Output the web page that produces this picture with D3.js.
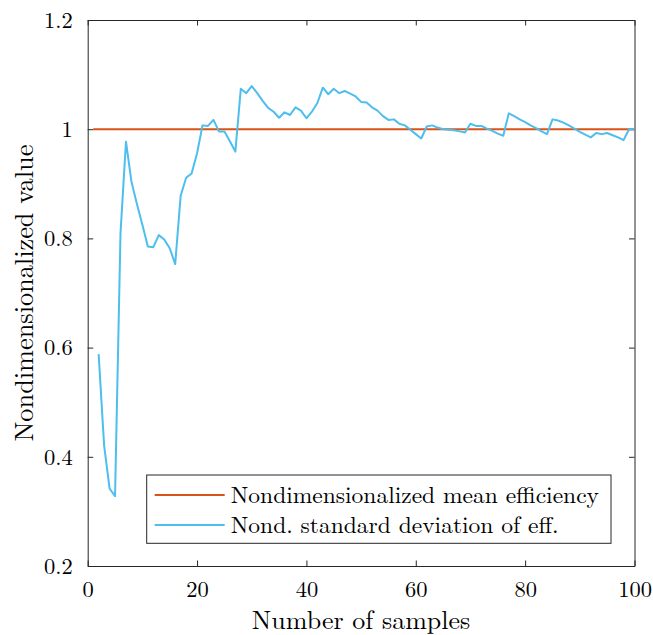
<!DOCTYPE html>
<html>
<head>
<meta charset="utf-8">
<script src="https://cdn.jsdelivr.net/npm/d3@7"></script>
<style>
  body { margin: 0; background: #fff; }
  svg { display: block; }
</style>
</head>
<body>
<svg id="chart"></svg>
<script>
// number of samples for the std. deviation series
var samples = d3.range(2, 101);
var stdValues = [
  0.588, 0.421, 0.342, 0.328, 0.810, 0.977, 0.904, 0.863, 0.825, 0.785,
  0.784, 0.806, 0.798, 0.782, 0.753, 0.878, 0.911, 0.919, 0.956, 1.007,
  1.006, 1.017, 0.996, 0.996, 0.978, 0.959, 1.074, 1.066, 1.079, 1.066,
  1.052, 1.039, 1.032, 1.021, 1.031, 1.026, 1.040, 1.034, 1.020, 1.032,
  1.048, 1.076, 1.064, 1.074, 1.066, 1.070, 1.065, 1.060, 1.050, 1.049,
  1.040, 1.034, 1.024, 1.017, 1.018, 1.010, 1.007, 0.999, 0.991, 0.983,
  1.005, 1.007, 1.003, 1.000, 0.999, 0.998, 0.996, 0.994, 1.010, 1.006,
  1.006, 1.001, 0.997, 0.992, 0.988, 1.029, 1.024, 1.018, 1.013, 1.007,
  1.002, 0.996, 0.991, 1.018, 1.016, 1.012, 1.007, 1.001, 0.995, 0.990,
  0.985, 0.993, 0.991, 0.993, 0.989, 0.985, 0.980, 1.000, 1.000
];
// mean efficiency (nondimensionalized, flat)
var meanSamples = [1, 100];
var meanValues = [1, 1];

var xTicks = [0, 20, 40, 60, 80, 100];
var yTicks = [0.2, 0.4, 0.6, 0.8, 1, 1.2];
var legendLabels = ["Nondimensionalized mean efficiency", "Nond. standard deviation of eff."];
var colors = ["#D95319", "#4DBEEE"];

var FONT = "'Latin Modern Roman', 'Liberation Serif', serif";

function drawChart() {
    var W = 653, H = 635;
    var margin = {top: 20, right: 18.5, bottom: 69, left: 87.7},
        width = W - margin.left - margin.right,
        height = H - margin.top - margin.bottom;

    var svg = d3.select("#chart")
        .attr("width", W)
        .attr("height", H);

    var g = svg.append("g")
        .attr("transform", "translate(" + margin.left + "," + margin.top + ")");

    var x = d3.scaleLinear().domain([0, 100]).range([0, width]);
    var y = d3.scaleLinear().domain([0.2, 1.2]).range([height, 0]);

    var fmt = function(d) { return String(+d.toFixed(1)); };

    // axes, ticks pointing inward (matlab style)
    var axisColor = "#262626", tick = 5.5;

    g.append("g")
        .attr("transform", "translate(0," + height + ")")
        .call(d3.axisBottom(x).tickValues(xTicks).tickSizeInner(-tick).tickSizeOuter(0).tickPadding(0).tickFormat(fmt))
        .call(styleAxis)
        .selectAll(".tick text")
            .attr("y", 30.5)
            .attr("dy", null);

    g.append("g")
        .call(d3.axisTop(x).tickValues(xTicks).tickSizeInner(-tick).tickSizeOuter(0).tickFormat(""))
        .call(styleAxis);

    g.append("g")
        .call(d3.axisLeft(y).tickValues(yTicks).tickSizeInner(-tick).tickSizeOuter(0).tickPadding(15).tickFormat(fmt))
        .call(styleAxis);

    g.append("g")
        .attr("transform", "translate(" + width + ",0)")
        .call(d3.axisRight(y).tickValues(yTicks).tickSizeInner(-tick).tickSizeOuter(0).tickFormat(""))
        .call(styleAxis);

    function styleAxis(sel) {
        sel.attr("font-family", FONT).attr("font-size", 22.5);
        sel.select(".domain").attr("stroke", axisColor).attr("stroke-width", 1);
        sel.selectAll(".tick line").attr("stroke", axisColor).attr("stroke-width", 1);
        sel.selectAll(".tick text").attr("fill", "#000");
    }

    var line = d3.line()
        .x(function(d) { return x(d[0]); })
        .y(function(d) { return y(d[1]); });

    g.append("path")
        .datum(d3.zip(meanSamples, meanValues))
        .attr("fill", "none")
        .attr("stroke", colors[0])
        .attr("stroke-width", 2)
        .attr("d", line);

    g.append("path")
        .datum(d3.zip(samples, stdValues))
        .attr("fill", "none")
        .attr("stroke", colors[1])
        .attr("stroke-width", 2)
        .attr("stroke-linejoin", "round")
        .attr("d", line);

    // axis labels
    svg.append("text")
        .attr("x", margin.left + width / 2)
        .attr("y", 628.5)
        .attr("text-anchor", "middle")
        .attr("font-family", FONT)
        .attr("font-size", 26)
        .text("Number of samples");

    svg.append("text")
        .attr("transform", "translate(32.5," + (margin.top + height / 2) + ") rotate(-90)")
        .attr("text-anchor", "middle")
        .attr("font-family", FONT)
        .attr("font-size", 26.3)
        .text("Nondimensionalized value");

    // legend
    var legend = svg.append("g").attr("transform", "translate(146.7,475)");
    legend.append("rect")
        .attr("width", 464.3)
        .attr("height", 68.3)
        .attr("fill", "#fff")
        .attr("stroke", axisColor)
        .attr("stroke-width", 1);

    legendLabels.forEach(function(lab, i) {
        var ly = 20 + i * 30;
        legend.append("line")
            .attr("x1", 8).attr("x2", 78)
            .attr("y1", ly).attr("y2", ly)
            .attr("stroke", colors[i])
            .attr("stroke-width", 2);
        legend.append("text")
            .attr("x", 84)
            .attr("y", ly + 7.5)
            .attr("font-family", FONT)
            .attr("font-size", 23.5)
            .text(lab);
    });
}

drawChart();
</script>
</body>
</html>
